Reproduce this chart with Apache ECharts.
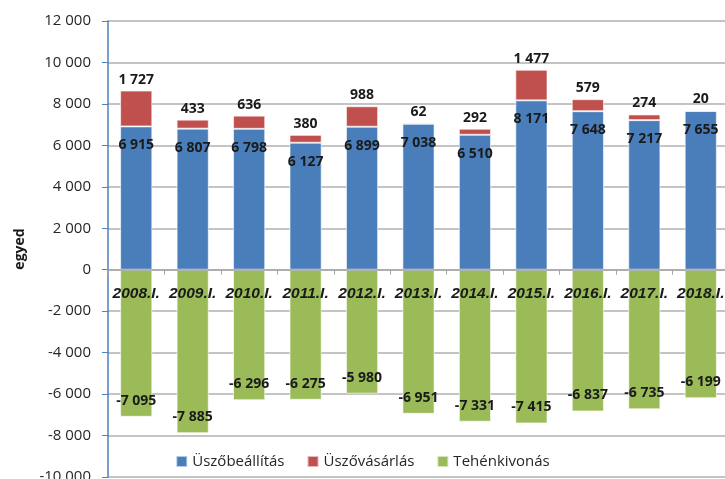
<!DOCTYPE html>
<html>
<head>
<meta charset="utf-8">
<script src="https://cdn.jsdelivr.net/npm/echarts@6/dist/echarts.min.js"></script>
<style>
html,body{margin:0;padding:0;background:#fff;}
#chart{width:725px;height:479px;}
</style>
</head>
<body>
<div id="chart"></div>
<script>
const categories = ['2008.I.','2009.I.','2010.I.','2011.I.','2012.I.','2013.I.','2014.I.','2015.I.','2016.I.','2017.I.','2018.I.'];
const uszobeallitas = [6915, 6807, 6798, 6127, 6899, 7038, 6510, 8171, 7648, 7217, 7655];
const uszovasarlas = [1727, 433, 636, 380, 988, 62, 292, 1477, 579, 274, 20];
const tehenkivonas = [-7095, -7885, -6296, -6275, -5980, -6951, -7331, -7415, -6837, -6735, -6199];
const seriesNames = ['Üszőbeállítás', 'Üszővásárlás', 'Tehénkivonás'];
const yTicks = {min: -10000, max: 12000, interval: 2000};

function fmt(v){
  const s = Math.abs(v).toString().replace(/\B(?=(\d{3})+(?!\d))/g, ' ');
  return (v < 0 ? '-' : '') + s;
}

const FONT = '"Open Sans", "Noto Sans", sans-serif';
const labelStyle = {fontFamily: FONT, fontWeight: 'bold', fontSize: 14, color: '#1a1a1a'};

const W = 725, H = 479;
const gridTop = 21, gridBottom = 2;
const plotH = H - gridTop - gridBottom;
// distance from bottom of plot to the zero line, so the category axis sits on zero
const zeroFromBottom = plotH * (0 - yTicks.min) / (yTicks.max - yTicks.min);

const chart = echarts.init(document.getElementById('chart'), null, {renderer: 'canvas'});
chart.setOption({
  animation: false,
  backgroundColor: '#fff',
  grid: {left: 108, right: -4, top: gridTop, bottom: gridBottom, containLabel: false, outerBoundsMode: 'none'},
  legend: {
    data: seriesNames,
    top: 454,
    left: 'center',
    padding: 0,
    itemWidth: 11,
    itemHeight: 11,
    itemGap: 22,
    icon: 'rect',
    textStyle: {fontFamily: FONT, fontSize: 15, color: '#262626'}
  },
  xAxis: {
    type: 'category',
    data: categories,
    position: 'bottom',
    offset: -zeroFromBottom,
    z: 5,
    axisLine: {onZero: false, lineStyle: {color: '#a6a6a6', width: 1.5}},
    axisTick: {show: true, length: 5, lineStyle: {color: '#a6a6a6'}},
    axisLabel: {
      interval: 0,
      margin: 16,
      fontFamily: '"Liberation Sans", Arial, sans-serif',
      fontStyle: 'italic', fontWeight: 'bold', fontSize: 15.5, color: '#1a1a1a'
    },
    splitLine: {show: false}
  },
  yAxis: {
    type: 'value',
    min: yTicks.min, max: yTicks.max, interval: yTicks.interval,
    name: 'egyed',
    nameLocation: 'middle',
    nameGap: 81,
    nameTextStyle: {fontFamily: FONT, fontWeight: 'bold', fontSize: 14, color: '#1a1a1a'},
    axisLine: {show: true, lineStyle: {color: '#4f81bd', width: 1.5}},
    axisTick: {show: true, length: 6, lineStyle: {color: '#4f81bd'}},
    axisLabel: {margin: 17, fontFamily: FONT, fontSize: 15, color: '#262626', formatter: v => fmt(v)},
    splitLine: {show: true, lineStyle: {color: '#b0b0b0', width: 1.5}}
  },
  series: [
    {
      name: seriesNames[0], type: 'bar', stack: 'a', data: uszobeallitas,
      barWidth: '57%',
      itemStyle: {color: '#4a7ebb', borderColor: 'rgba(255,255,255,0.6)', borderWidth: 1},
      label: Object.assign({show: true, position: 'insideTop', distance: 12, formatter: p => fmt(p.value)}, labelStyle)
    },
    {
      name: seriesNames[1], type: 'bar', stack: 'a', data: uszovasarlas,
      itemStyle: {color: '#c0504d', borderColor: 'rgba(255,255,255,0.6)', borderWidth: 1},
      label: Object.assign({show: true, position: 'top', distance: 4, formatter: p => fmt(p.value)}, labelStyle)
    },
    {
      name: seriesNames[2], type: 'bar', stack: 'a', data: tehenkivonas,
      itemStyle: {color: '#9bbb59', borderColor: 'rgba(255,255,255,0.6)', borderWidth: 1},
      label: Object.assign({show: true, position: 'insideBottom', distance: 9, formatter: p => fmt(p.value)}, labelStyle)
    }
  ]
});
</script>
</body>
</html>
